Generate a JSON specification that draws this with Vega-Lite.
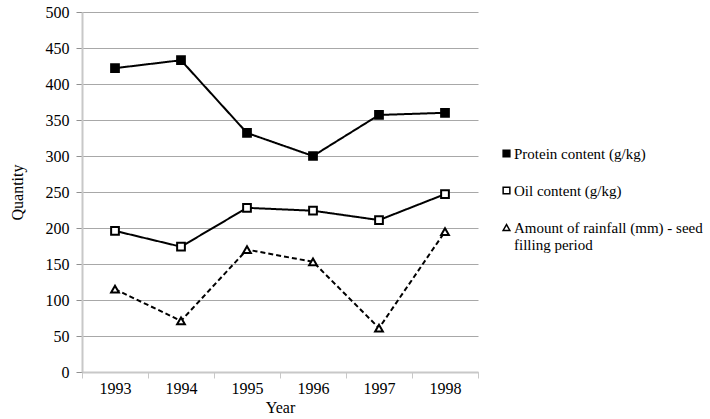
{
  "$schema": "https://vega.github.io/schema/vega-lite/v6.json",
  "width": 396,
  "height": 360,
  "autosize": "none",
  "padding": {"left": 82, "top": 12, "right": 232, "bottom": 47},
  "background": "white",
  "config": {
    "font": "Liberation Serif",
    "view": {"stroke": null},
    "axis": {"labelFont": "Liberation Serif", "titleFont": "Liberation Serif", "labelFontSize": 16, "titleFontSize": 16, "titleFontWeight": "normal", "labelColor": "#000", "titleColor": "#000"},
    "legend": {"labelFont": "Liberation Serif", "labelFontSize": 15, "labelColor": "#000"}
  },
  "data": {
    "values": [
      {"Year": "1993", "series": "Protein content (g/kg)", "value": 422},
      {"Year": "1994", "series": "Protein content (g/kg)", "value": 433},
      {"Year": "1995", "series": "Protein content (g/kg)", "value": 332},
      {"Year": "1996", "series": "Protein content (g/kg)", "value": 300},
      {"Year": "1997", "series": "Protein content (g/kg)", "value": 357},
      {"Year": "1998", "series": "Protein content (g/kg)", "value": 360},
      {"Year": "1993", "series": "Oil content (g/kg)", "value": 196},
      {"Year": "1994", "series": "Oil content (g/kg)", "value": 174},
      {"Year": "1995", "series": "Oil content (g/kg)", "value": 228},
      {"Year": "1996", "series": "Oil content (g/kg)", "value": 224},
      {"Year": "1997", "series": "Oil content (g/kg)", "value": 211},
      {"Year": "1998", "series": "Oil content (g/kg)", "value": 247},
      {"Year": "1993", "series": "Amount of rainfall (mm) - seed filling period", "value": 115},
      {"Year": "1994", "series": "Amount of rainfall (mm) - seed filling period", "value": 71},
      {"Year": "1995", "series": "Amount of rainfall (mm) - seed filling period", "value": 170},
      {"Year": "1996", "series": "Amount of rainfall (mm) - seed filling period", "value": 153},
      {"Year": "1997", "series": "Amount of rainfall (mm) - seed filling period", "value": 61},
      {"Year": "1998", "series": "Amount of rainfall (mm) - seed filling period", "value": 195}
    ]
  },
  "encoding": {
    "x": {
      "field": "Year", "type": "ordinal", "title": "Year",
      "scale": {"paddingInner": 0, "paddingOuter": 0},
      "axis": {"labelAngle": 0, "domainColor": "#c8c8c8", "domainWidth": 2, "tickColor": "#c8c8c8", "tickWidth": 1, "tickSize": 6, "tickBand": "extent", "labelPadding": 2, "titlePadding": 3, "grid": false}
    },
    "y": {
      "field": "value", "type": "quantitative", "title": "Quantity",
      "scale": {"domain": [0, 500], "nice": false},
      "axis": {"values": [0, 50, 100, 150, 200, 250, 300, 350, 400, 450, 500], "domainColor": "#c8c8c8", "domainWidth": 2, "tickColor": "#909090", "tickSize": 6, "gridColor": "#a8a8a8", "gridWidth": 1, "labelPadding": 7, "titlePadding": 20}
    }
  },
  "layer": [
    {
      "mark": {"type": "line", "color": "black", "strokeWidth": 2},
      "encoding": {
        "detail": {"field": "series"},
        "strokeDash": {
          "condition": {"test": "datum.series == 'Amount of rainfall (mm) - seed filling period'", "value": [5, 3]},
          "value": [1, 0]
        }
      }
    },
    {
      "mark": {"type": "point", "filled": true, "stroke": "black", "strokeWidth": 2, "size": 60, "opacity": 1},
      "encoding": {
        "shape": {
          "field": "series", "type": "nominal",
          "scale": {"domain": ["Protein content (g/kg)", "Oil content (g/kg)", "Amount of rainfall (mm) - seed filling period"], "range": ["square", "square", "triangle-up"]},
          "legend": {
            "title": null,
            "orient": "none", "legendX": 417, "legendY": 134, "padding": 0,
            "labelFont": "Liberation Serif", "labelFontSize": 15, "labelColor": "#000", "labelLimit": 300,
            "symbolSize": 45, "rowPadding": 21,
            "labelOffset": 0,
            "labelExpr": "datum.label == 'Amount of rainfall (mm) - seed filling period' ? ['Amount of rainfall (mm) - seed', 'filling period'] : datum.label",
            "encode": {
              "symbols": {"update": {"stroke": {"value": "black"}, "strokeWidth": {"value": 2}, "opacity": {"value": 1}}},
              "labels": {"update": {"font": {"value": "Liberation Serif"}, "fontSize": {"value": 15}}}
            }
          }
        },
        "fill": {
          "field": "series", "type": "nominal",
          "scale": {"domain": ["Protein content (g/kg)", "Oil content (g/kg)", "Amount of rainfall (mm) - seed filling period"], "range": ["black", "white", "white"]}
        }
      }
    }
  ]
}
